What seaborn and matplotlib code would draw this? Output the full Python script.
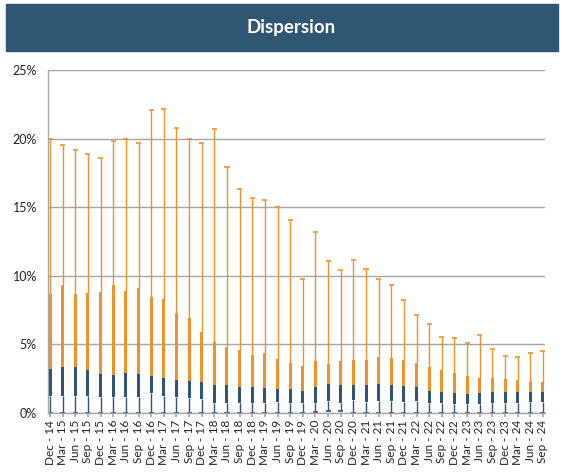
import numpy as np
import pandas as pd
import matplotlib
matplotlib.use("Agg")
import matplotlib.pyplot as plt
import seaborn as sns

quarters = ["Dec - 14", "Mar - 15", "Jun - 15", "Sep - 15", "Dec - 15", "Mar - 16", "Jun - 16", "Sep - 16",
            "Dec - 16", "Mar - 17", "Jun - 17", "Sep - 17", "Dec - 17", "Mar - 18", "Jun - 18", "Sep - 18",
            "Dec - 18", "Mar - 19", "Jun - 19", "Sep - 19", "Dec - 19", "Mar - 20", "Jun - 20", "Sep - 20",
            "Dec - 20", "Mar - 21", "Jun - 21", "Sep - 21", "Dec - 21", "Mar - 22", "Jun - 22", "Sep - 22",
            "Dec - 22", "Mar - 23", "Jun - 23", "Sep - 23", "Dec - 23", "Mar - 24", "Jun - 24", "Sep - 24"]

max_vals = [20.0, 19.5, 19.2, 18.9, 18.6, 19.8, 19.95, 19.7, 22.1, 22.15, 20.8, 19.95, 19.7, 20.7, 17.9, 16.3,
            15.7, 15.5, 15.0, 14.1, 9.8, 13.2, 11.1, 10.4, 11.15, 10.5, 9.8, 9.33, 8.26, 7.12, 6.51, 5.52,
            5.44, 5.1, 5.71, 4.64, 4.15, 4.1, 4.35, 4.54]
q3_vals = [8.67, 9.33, 8.67, 8.77, 8.84, 9.33, 8.9, 9.13, 8.48, 8.31, 7.29, 6.95, 5.93, 5.15, 4.84, 4.6,
           4.23, 4.35, 3.94, 3.62, 3.43, 3.79, 3.6, 3.79, 3.89, 3.89, 4.08, 4.03, 3.89, 3.67, 3.35, 3.16,
           2.94, 2.72, 2.58, 2.58, 2.48, 2.41, 2.28, 2.28]
median_vals = [3.23, 3.33, 3.38, 3.13, 2.84, 2.77, 2.92, 2.84, 2.72, 2.53, 2.41, 2.33, 2.28, 2.06, 2.02, 1.87,
               1.87, 1.85, 1.75, 1.77, 1.58, 1.87, 2.09, 2.02, 2.02, 2.02, 2.09, 2.02, 1.95, 1.92, 1.63, 1.55,
               1.48, 1.41, 1.44, 1.51, 1.55, 1.51, 1.55, 1.53]
q1_vals = [1.24, 1.24, 1.24, 1.24, 1.14, 1.14, 1.14, 1.2, 1.43, 1.24, 1.14, 1.07, 1.0, 0.75, 0.75, 0.7,
           0.7, 0.75, 0.83, 0.75, 0.75, 0.7, 0.9, 0.75, 0.95, 0.83, 0.9, 0.9, 0.83, 0.9, 0.75, 0.7,
           0.66, 0.66, 0.66, 0.75, 0.75, 0.75, 0.8, 0.8]
min_vals = [0.02] * 21 + [0.1, 0.15, 0.15] + [0.02] * 16

df = pd.DataFrame({"quarter": quarters, "max": max_vals, "q3": q3_vals,
                   "median": median_vals, "q1": q1_vals, "min": min_vals})
df["pos"] = np.arange(len(df))

sns.set_theme(style="white")
plt.rcParams["font.family"] = ["Lato", "DejaVu Sans"]

ORANGE = "#F0912B"
BLUE = "#2E5577"
GRID = "#A6A6A6"

fig = plt.figure(figsize=(5.70, 4.73), dpi=100)
ax = fig.add_axes([48 / 570, 1 - 413 / 473, (545 - 48) / 570, (413 - 70) / 473])

# title bar
fig.patches.append(plt.Rectangle((6 / 570, 1 - 51 / 473), (558 - 6) / 570, 47 / 473,
                                 transform=fig.transFigure, color="#2F5673", zorder=0))
fig.text(291 / 570, 1 - 27.5 / 473, "Dispersion", color="white", fontsize=13.5,
         fontweight="bold", ha="center", va="center")

# whiskers
ax.vlines(df["pos"], df["q3"], df["max"], color=ORANGE, lw=1.0, zorder=2)
ax.vlines(df["pos"], df["min"], df["q1"], color=BLUE, lw=1.0, zorder=2)
# caps
ax.hlines(df["max"], df["pos"] - 0.2, df["pos"] + 0.2, color=ORANGE, lw=1.2, zorder=2)
ax.hlines(df["min"], df["pos"] - 0.2, df["pos"] + 0.2, color=BLUE, lw=1.2, zorder=2)
# boxes
bw = 0.24
ax.bar(df["pos"], df["q3"] - df["median"], bottom=df["median"], width=bw, color=ORANGE,
       edgecolor="none", zorder=3)
ax.bar(df["pos"], df["median"] - df["q1"], bottom=df["q1"], width=bw, color=BLUE,
       edgecolor="none", zorder=3)

ax.set_ylim(0, 25)
ax.set_xlim(-0.16, len(df) - 1 + 0.16)
ax.set_yticks([0, 5, 10, 15, 20, 25])
ax.set_yticklabels([f"{v}%" for v in [0, 5, 10, 15, 20, 25]], fontsize=9, color="#222222")
ax.set_xticks(df["pos"])
ax.set_xticklabels(df["quarter"], rotation=90, fontsize=8.5, color="#222222")
ax.yaxis.grid(True, color=GRID, lw=1.0, zorder=0)
ax.set_axisbelow(True)
for s in ["top", "right"]:
    ax.spines[s].set_visible(False)
for s in ["left", "bottom"]:
    ax.spines[s].set_color(GRID)
    ax.spines[s].set_linewidth(1.0)
ax.tick_params(axis="x", length=3, color=GRID, pad=2, bottom=True)
ax.tick_params(axis="y", length=0, pad=8)

fig.savefig("out.png", dpi=100)
